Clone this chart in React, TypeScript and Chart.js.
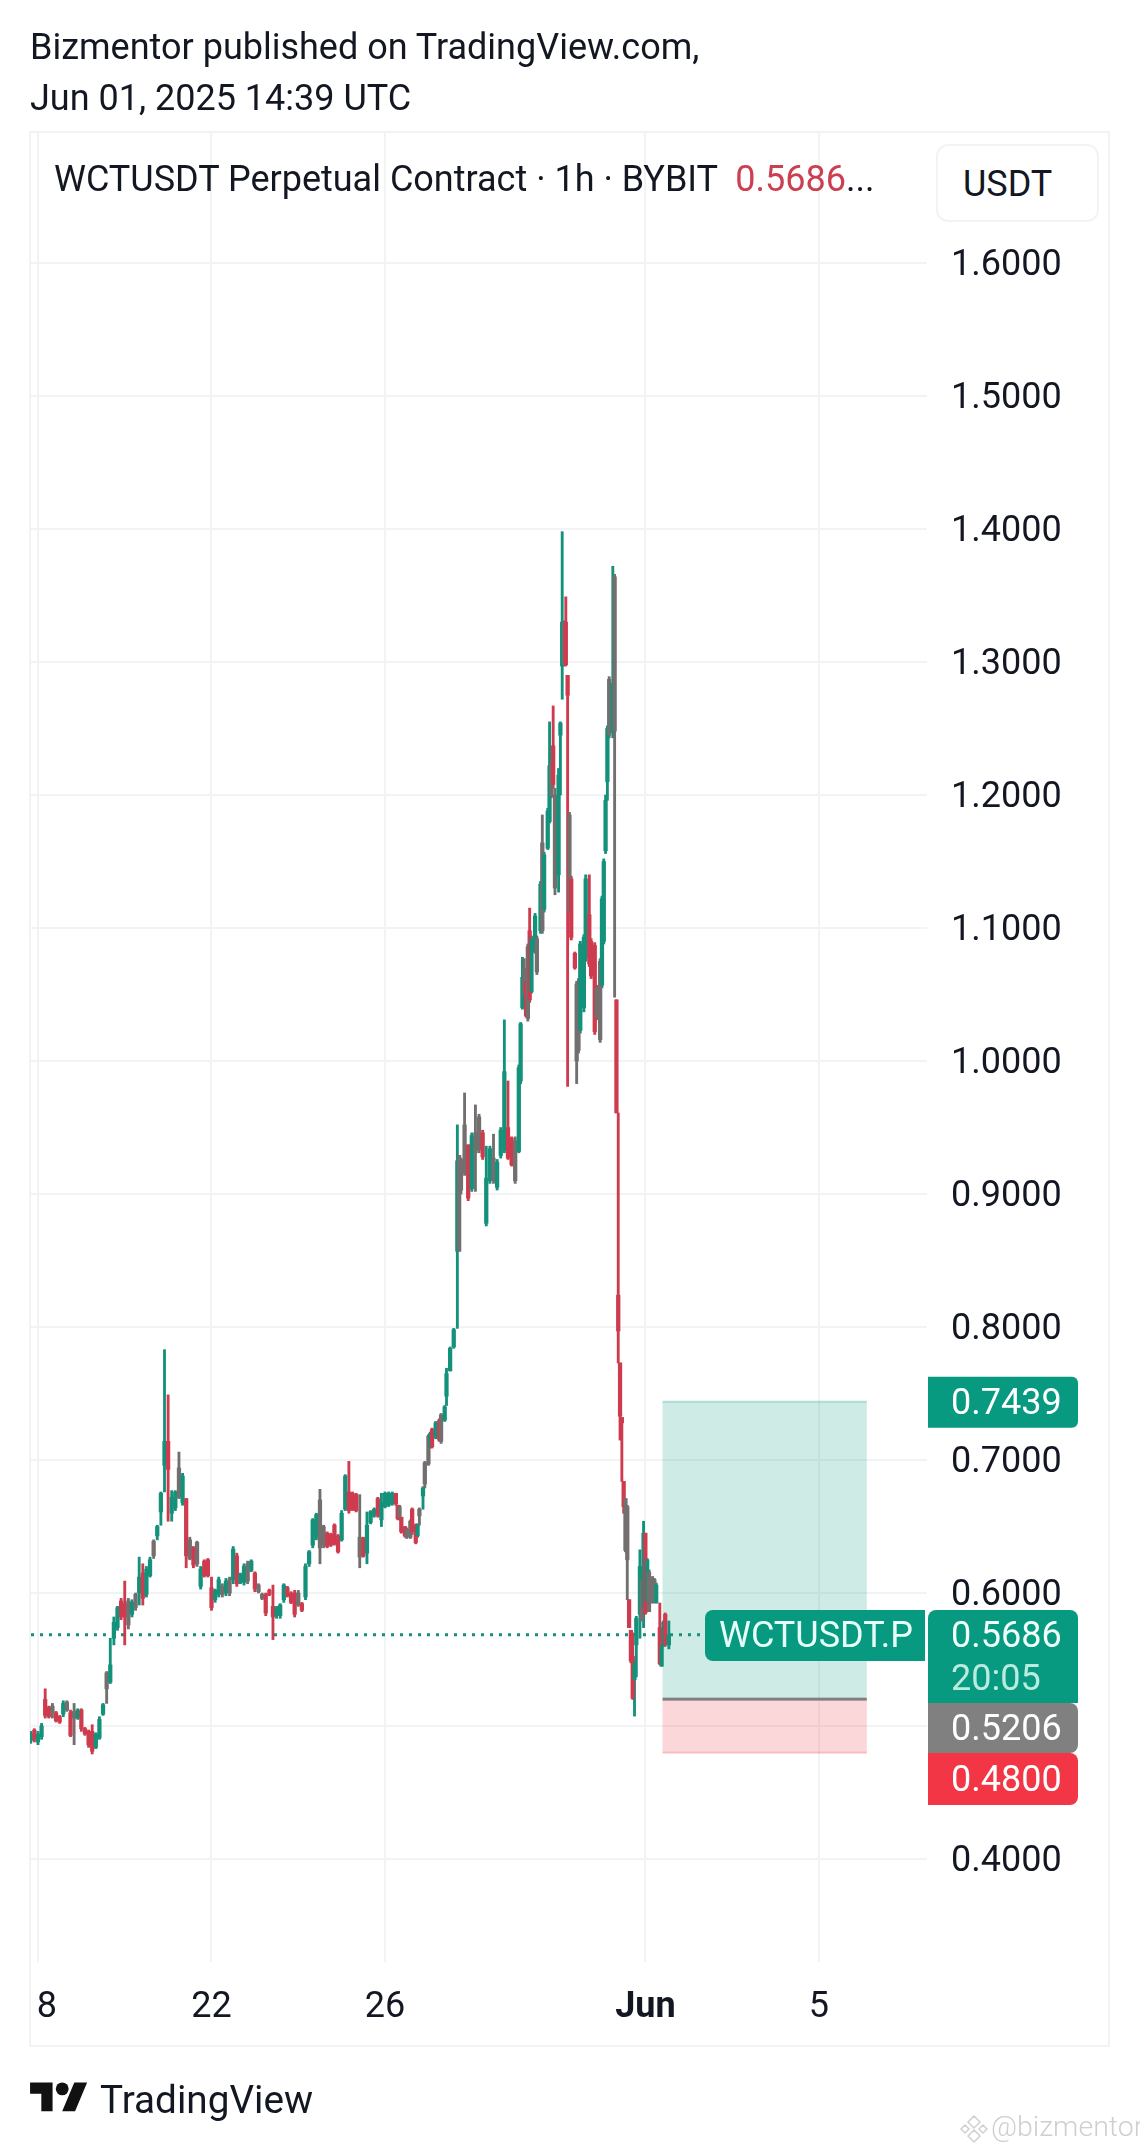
import React, { useEffect, useRef } from "react";
import { Chart, registerables } from "chart.js";

Chart.register(...registerables);

// Candle times: hours after 18 May 00:00 UTC
const hours = [
  -4,-2,0,2,4,6,8,10,12,14,
  16,18,20,22,24,26,28,30,32,34,
  36,38,40,42,44,46,48,50,52,54,
  56,58,60,62,64,66,68,70,72,74,
  76,78,80,82,84,86,88,90,92,94,
  96,98,100,102,104,106,108,110,112,114,
  116,118,120,122,124,126,128,130,132,134,
  136,138,140,142,144,146,148,150,152,154,
  156,158,160,162,164,166,168,170,172,174,
  176,178,180,182,184,186,188,190,192,194,
  196,198,199,200,201,203,204,206,207,209,
  210,211,213,214,216,217,218,220,222,223,
  225,226,228,230,232,233,234,236,238,240,
  242,244,246,248,250,252,254,256,258,260,
  262,264,266,267,268,269,270,271,272,273,
  275,276,278,279,280,282,283,284,285,286,
  288,289,290,291,292,293,294,295,297,298,
  299,300,302,303,305,306,308,309,311,312,
  313,314,315,316,318,319,320,321,322,323,
  324,325,326,327,328,329,330,331,333,334,
  335,336,337,338,340,341,342,344,345,346,
  347,349,
];
const opens = [
  .489,.497,.488,.492,.520,.514,.510,.510,.507,.509,
  .518,.510,.506,.506,.512,.498,.496,.496,.484,.491,
  .509,.528,.533,.566,.574,.594,.592,.576,.584,.589,
  .600,.615,.599,.613,.628,.643,.661,.696,.714,.660,
  .664,.672,.668,.671,.626,.634,.622,.605,.624,.625,
  .604,.595,.599,.605,.600,.600,.610,.628,.608,.608,
  .609,.617,.615,.606,.599,.599,.602,.590,.583,.583,
  .595,.604,.600,.600,.600,.592,.597,.622,.636,.642,
  .634,.636,.645,.644,.651,.643,.640,.663,.676,.675,
  .674,.642,.641,.630,.653,.658,.671,.655,.665,.666,
  .667,.675,.666,.665,.657,.650,.648,.654,.663,.651,
  .643,.658,.673,.682,.697,.710,.723,.717,.730,.734,
  .730,.748,.767,.785,.857,.929,.903,.952,.937,.904,
  .931,.933,.946,.878,.910,.910,.905,.929,.933,.950,
  .942,.910,.932,.985,1.040,1.050,1.060,1.032,1.098,1.052,
  1.082,1.067,1.098,1.098,1.114,1.160,1.180,1.199,1.237,1.200,
  1.140,1.245,1.297,1.330,1.330,1.290,1.185,1.137,1.081,1.058,
  1.060,1.023,1.040,1.078,1.110,1.090,1.087,1.055,1.075,1.057,
  1.090,1.158,1.210,1.245,1.247,1.364,1.046,.824,.773,.732,
  .684,.671,.665,.595,.572,.5525,.535,.561,.584,.579,
  .590,.645,.594,.586,.5925,.5975,.5925,.574,.545,.560,
  .584,.561,
];
const highs = [
  .496,.498,.496,.502,.528,.515,.517,.511,.508,.519,
  .519,.512,.517,.513,.513,.499,.497,.501,.495,.507,
  .517,.541,.566,.582,.590,.596,.609,.596,.595,.600,
  .627,.622,.620,.627,.640,.651,.676,.783,.749,.677,
  .677,.706,.690,.671,.642,.635,.639,.620,.625,.626,
  .612,.603,.612,.607,.611,.612,.635,.630,.615,.622,
  .624,.625,.616,.607,.600,.600,.603,.606,.590,.592,
  .607,.605,.601,.602,.602,.593,.622,.632,.656,.660,
  .678,.651,.646,.645,.652,.644,.662,.689,.699,.676,
  .675,.674,.642,.661,.662,.664,.672,.675,.676,.676,
  .676,.675,.666,.666,.657,.650,.649,.655,.664,.652,
  .652,.664,.680,.699,.719,.721,.724,.729,.731,.735,
  .741,.769,.785,.799,.952,.929,.927,.976,.937,.946,
  .967,.960,.948,.936,.936,.945,.926,.950,1.031,.985,
  .943,.943,.997,1.029,1.078,1.077,1.061,1.088,1.115,1.094,
  1.111,1.094,1.135,1.185,1.157,1.190,1.255,1.224,1.267,1.205,
  1.220,1.255,1.398,1.331,1.349,1.290,1.187,1.139,1.082,1.060,
  1.062,1.090,1.095,1.140,1.140,1.092,1.089,1.057,1.077,1.124,
  1.152,1.200,1.252,1.289,1.372,1.366,1.046,.961,.773,.732,
  .684,.671,.666,.595,.572,.570,.550,.5825,.6325,.611,
  .654,.645,.626,.6175,.6125,.611,.6075,.5925,.561,.579,
  .585,.579,
];
const lows = [
  .487,.488,.486,.490,.506,.506,.506,.503,.502,.507,
  .511,.492,.486,.505,.496,.493,.484,.479,.483,.490,
  .508,.517,.532,.561,.572,.580,.561,.573,.582,.587,
  .591,.591,.597,.612,.626,.640,.651,.676,.654,.654,
  .662,.671,.666,.619,.625,.619,.620,.603,.612,.612,
  .587,.593,.597,.597,.598,.598,.607,.605,.607,.606,
  .607,.616,.601,.600,.595,.583,.598,.565,.581,.581,
  .593,.597,.592,.582,.590,.586,.595,.620,.634,.640,
  .622,.634,.634,.635,.636,.630,.639,.662,.660,.662,
  .661,.619,.627,.622,.652,.657,.657,.650,.664,.665,
  .666,.666,.655,.655,.645,.642,.641,.641,.644,.637,
  .642,.651,.663,.679,.696,.709,.709,.716,.714,.7125,
  .729,.741,.767,.784,.799,.857,.900,.914,.895,.902,
  .902,.931,.926,.876,.908,.908,.903,.927,.931,.926,
  .921,.908,.931,.983,1.039,1.040,1.033,1.030,1.044,1.051,
  1.081,1.065,1.096,1.096,1.112,1.159,1.179,1.198,1.205,1.125,
  1.127,1.200,1.272,1.297,1.297,.981,1.111,1.091,1.069,.983,
  1.006,1.021,1.037,1.075,1.071,1.062,1.020,1.031,1.014,1.055,
  1.088,1.156,1.196,1.243,1.243,1.048,.961,.773,.715,.684,
  .660,.631,.595,.574,.5475,.520,.5075,.537,.566,.579,
  .574,.584,.594,.586,.5925,.5975,.5925,.546,.545,.560,
  .560,.558,
];
const closes = [
  .494,.490,.494,.500,.508,.507,.515,.504,.503,.517,
  .512,.493,.511,.512,.498,.494,.486,.481,.494,.505,
  .516,.540,.546,.578,.589,.582,.582,.594,.593,.599,
  .612,.596,.618,.625,.639,.650,.675,.714,.693,.672,
  .676,.694,.688,.628,.640,.621,.638,.618,.613,.613,
  .589,.602,.610,.599,.609,.610,.633,.607,.614,.620,
  .622,.624,.603,.601,.596,.585,.599,.582,.589,.591,
  .606,.598,.593,.584,.591,.587,.620,.631,.655,.659,
  .670,.650,.635,.636,.637,.631,.660,.688,.662,.663,
  .662,.627,.628,.651,.661,.663,.658,.668,.675,.675,
  .675,.667,.656,.657,.646,.643,.642,.642,.646,.638,
  .651,.663,.679,.698,.718,.720,.710,.728,.715,.714,
  .740,.765,.784,.798,.925,.857,.926,.916,.897,.944,
  .946,.958,.928,.912,.934,.927,.924,.948,.992,.927,
  .922,.940,.995,1.028,1.063,1.070,1.034,1.086,1.046,1.092,
  1.109,1.092,1.133,1.164,1.155,1.188,1.222,1.222,1.208,1.130,
  1.215,1.254,1.330,1.298,1.298,1.275,1.113,1.093,1.070,1.000,
  1.008,1.088,1.093,1.137,1.073,1.064,1.022,1.033,1.016,1.122,
  1.150,1.196,1.250,1.287,1.284,1.248,.961,.797,.733,.728,
  .665,.632,.625,.574,.549,.521,.5475,.581,.620,.610,
  .645,.585,.625,.616,.611,.610,.606,.547,.560,.578,
  .561,.5686,
];
// g = up, r = down, m = muddied neighbouring candles
const tones =
  "grggrrmrrg" + "mrmgrrrrgg" + "gmgggrrmgm" + "grggmgggrg" + "gmgrmrmgrr" +
  "rggmgmgrgg" + "mgrmmrrrgg" + "grrrmrgggg" + "mmrrrrggrr" + "rmrgggrggg" +
  "grrmrrmmrr" + "gmgmmgrgrm" + "gggggmmmrg" + "mmrggmgggr" + "rmgggmrmrg" +
  "gmgmgggmrm" + "gggmrrmrrm" + "mgggrrrmmg" + "gggmgmrrrr" + "rmmrrrgggm" +
  "grgmmmgrgg" + "rg";

const yTicks = [0.4, 0.5, 0.6, 0.7, 0.8, 0.9, 1.0, 1.1, 1.2, 1.3, 1.4, 1.5, 1.6];
const yHiddenLabels = [0.5];
const xTickHours = [0, 96, 192, 336, 432];
const xTickLabels = ["\u00a0\u00a08", "22", "26", "Jun", "5"];
const boldTickHour = 336;

const lastPrice = 0.5686;
const targetPrice = 0.7439;
const entryPrice = 0.5206;
const stopPrice = 0.48;
const positionStartHour = 345.5;
const positionEndHour = 458.5;
const countdown = "20:05";
const symbolName = "WCTUSDT.P";

const toneColor: Record<string, string> = { g: "#14917b", r: "#cf3b4e", m: "#736f6e" };
const FONT = "Roboto, sans-serif";
const TEXT = "#131722";

function roundedBadge(ctx: any, x: number, y: number, w: number, h: number, radii: number[], fill: string) {
  ctx.fillStyle = fill;
  ctx.beginPath();
  ctx.roundRect(x, y, w, h, radii);
  ctx.fill();
}

const overlayPlugin = {
  id: "overlay",
  beforeDraw(chart: any) {
    const { ctx } = chart;
    ctx.save();
    ctx.strokeStyle = "#f2f3f5";
    ctx.lineWidth = 2;
    ctx.strokeRect(30, 132, 1079, 1914);
    ctx.restore();
  },
  beforeDatasetsDraw(chart: any) {
    const { ctx, scales } = chart;
    const x0 = scales.x.getPixelForValue(positionStartHour);
    const x1 = scales.x.getPixelForValue(positionEndHour);
    const yT = scales.y.getPixelForValue(targetPrice);
    const yE = scales.y.getPixelForValue(entryPrice);
    const yS = scales.y.getPixelForValue(stopPrice);
    ctx.save();
    ctx.fillStyle = "rgba(8,153,129,0.2)";
    ctx.fillRect(x0, yT, x1 - x0, yE - yT);
    ctx.fillStyle = "rgba(242,54,69,0.2)";
    ctx.fillRect(x0, yE, x1 - x0, yS - yE);
    ctx.fillStyle = "rgba(8,153,129,0.25)";
    ctx.fillRect(x0, yT - 1, x1 - x0, 2);
    ctx.fillStyle = "rgba(242,54,69,0.25)";
    ctx.fillRect(x0, yS - 1, x1 - x0, 2);
    ctx.fillStyle = "#808080";
    ctx.fillRect(x0, yE - 1, x1 - x0, 3);

    const yL = scales.y.getPixelForValue(lastPrice);
    ctx.strokeStyle = "#14917b";
    ctx.lineWidth = 3;
    ctx.setLineDash([3, 6]);
    ctx.beginPath();
    ctx.moveTo(31, yL);
    ctx.lineTo(703, yL);
    ctx.stroke();
    ctx.restore();
  },
  afterDatasetsDraw(chart: any) {
    const { ctx, scales } = chart;
    const GREEN = "#089981";
    ctx.save();
    ctx.textBaseline = "middle";
    ctx.textAlign = "left";
    ctx.font = `36px ${FONT}`;

    const yT = scales.y.getPixelForValue(targetPrice);
    roundedBadge(ctx, 928, yT - 25, 150, 51, [0, 6, 6, 0], GREEN);
    ctx.fillStyle = "#ffffff";
    ctx.fillText(targetPrice.toFixed(4), 951, yT + 3);

    roundedBadge(ctx, 705, 1610, 220, 51, [8, 0, 0, 8], GREEN);
    ctx.fillStyle = "#e6fff8";
    ctx.fillText(symbolName, 719, 1638);

    roundedBadge(ctx, 928, 1610, 150, 93, [8, 8, 0, 0], GREEN);
    ctx.fillStyle = "#f0fffa";
    ctx.fillText(lastPrice.toFixed(4), 951, 1638);
    ctx.fillStyle = "#b9ecdf";
    ctx.fillText(countdown, 951, 1681);

    roundedBadge(ctx, 928, 1703, 150, 50, [0, 8, 8, 0], "#808080");
    ctx.fillStyle = "#ffffff";
    ctx.fillText(entryPrice.toFixed(4), 951, 1731);

    roundedBadge(ctx, 928, 1753, 150, 52, [0, 8, 8, 0], "#f23645");
    ctx.fillStyle = "#ffffff";
    ctx.fillText(stopPrice.toFixed(4), 951, 1782);
    ctx.restore();
  },
};

function label(left: number, top: number, size: number, extra: any = {}) {
  return {
    position: "absolute" as const,
    left,
    top,
    fontFamily: FONT,
    fontSize: size,
    lineHeight: "44px",
    color: TEXT,
    whiteSpace: "pre" as const,
    ...extra,
  };
}

export default function App() {
  const ref = useRef<HTMLCanvasElement | null>(null);

  useEffect(() => {
    const wicks = hours.map((h, i) => ({ x: h, y: [lows[i], highs[i]] }));
    const bodies = hours.map((h, i) => ({ x: h, y: [opens[i], closes[i]] }));
    const colors = hours.map((_, i) => toneColor[tones[i]]);
    const chart = new Chart(ref.current as HTMLCanvasElement, {
      type: "bar",
      data: {
        datasets: [
          { data: wicks as any, backgroundColor: colors, barThickness: 2.2, grouped: false, order: 2 },
          { data: bodies as any, backgroundColor: colors, barThickness: 3.6, grouped: false, order: 1 },
        ],
      },
      options: {
        animation: false,
        responsive: false,
        devicePixelRatio: 1,
        layout: { padding: { left: 30, top: 132, right: 0, bottom: 0 } },
        plugins: { legend: { display: false }, tooltip: { enabled: false } },
        scales: {
          x: {
            type: "linear",
            offset: false,
            min: -4.4,
            max: 491.8,
            border: { display: false },
            grid: { color: "#f2f3f5", lineWidth: 2, drawTicks: false, offset: false },
            afterBuildTicks: (s: any) => {
              s.ticks = xTickHours.map((value) => ({ value }));
            },
            afterFit: (s: any) => {
              s.height = 189;
              s.paddingLeft = 0;
              s.paddingRight = 0;
            },
            ticks: {
              autoSkip: false,
              maxRotation: 0,
              padding: 24,
              color: TEXT,
              font: (c: any) => ({
                family: FONT,
                size: 36,
                weight: c.tick && c.tick.value === boldTickHour ? "bold" : "normal",
              }),
              callback: (v: any) => xTickLabels[xTickHours.indexOf(v)],
            },
          },
          y: {
            type: "linear",
            position: "right",
            min: 0.3226,
            max: 1.6985,
            border: { display: false },
            grid: { color: "#f2f3f5", lineWidth: 2, drawTicks: false },
            afterBuildTicks: (s: any) => {
              s.ticks = yTicks.map((value) => ({ value }));
            },
            afterFit: (s: any) => {
              s.width = 213;
              s.paddingTop = 0;
              s.paddingBottom = 0;
            },
            ticks: {
              autoSkip: false,
              padding: 24,
              labelOffset: 3,
              color: TEXT,
              font: { family: FONT, size: 36 },
              callback: (v: any) =>
                yHiddenLabels.some((h) => Math.abs(h - v) < 1e-6) ? "" : Number(v).toFixed(4),
            },
          },
        },
      },
      plugins: [overlayPlugin],
    } as any);
    return () => chart.destroy();
  }, []);

  return (
    <div style={{ position: "absolute", left: 0, top: 0, width: 1140, height: 2151, background: "#fff", overflow: "hidden" }}>
      <canvas ref={ref} width={1140} height={2151} style={{ position: "absolute", left: 0, top: 0, display: "block" }} />
      <div style={label(30, 25, 36)}>Bizmentor published on TradingView.com,</div>
      <div style={label(30, 76, 36)}>Jun 01, 2025 14:39 UTC</div>
      <div style={label(54, 157, 36)}>
        WCTUSDT Perpetual Contract · 1h · BYBIT{"  "}
        <span style={{ color: "#cc3f50" }}>0.5686</span>...
      </div>
      <div
        style={{
          position: "absolute",
          left: 936,
          top: 144,
          width: 163,
          height: 78,
          boxSizing: "border-box",
          border: "2px solid #f2f3f5",
          borderRadius: 12,
          background: "#fff",
          fontFamily: FONT,
          fontSize: 36,
          lineHeight: "76px",
          paddingLeft: 25,
          color: TEXT,
        }}
      >
        USDT
      </div>
      <svg style={{ position: "absolute", left: 30, top: 2076 }} width={58} height={45} viewBox="0 0 36 28">
        <path d="M14 22H7V11H0V4h14v18zM28 22h-8l7.5-18h8L28 22z" fill="#111" />
        <circle cx={20} cy={8} r={4} fill="#111" />
      </svg>
      <div style={label(100, 2078, 38.7)}>TradingView</div>
      <svg style={{ position: "absolute", left: 959, top: 2114 }} width={30} height={30} viewBox="0 0 30 30">
        <path d="M15 2l6 6-6 6-6-6zM6 11l4 4-4 4-4-4zM24 11l4 4-4 4-4-4zM15 16l6 6-6 6-6-6z" fill="none" stroke="#d0d0d0" strokeWidth={1.5} />
      </svg>
      <div style={label(991, 2105, 28.5, { color: "#cfcfcf", fontWeight: 300 })}>@bizmentor</div>
    </div>
  );
}
